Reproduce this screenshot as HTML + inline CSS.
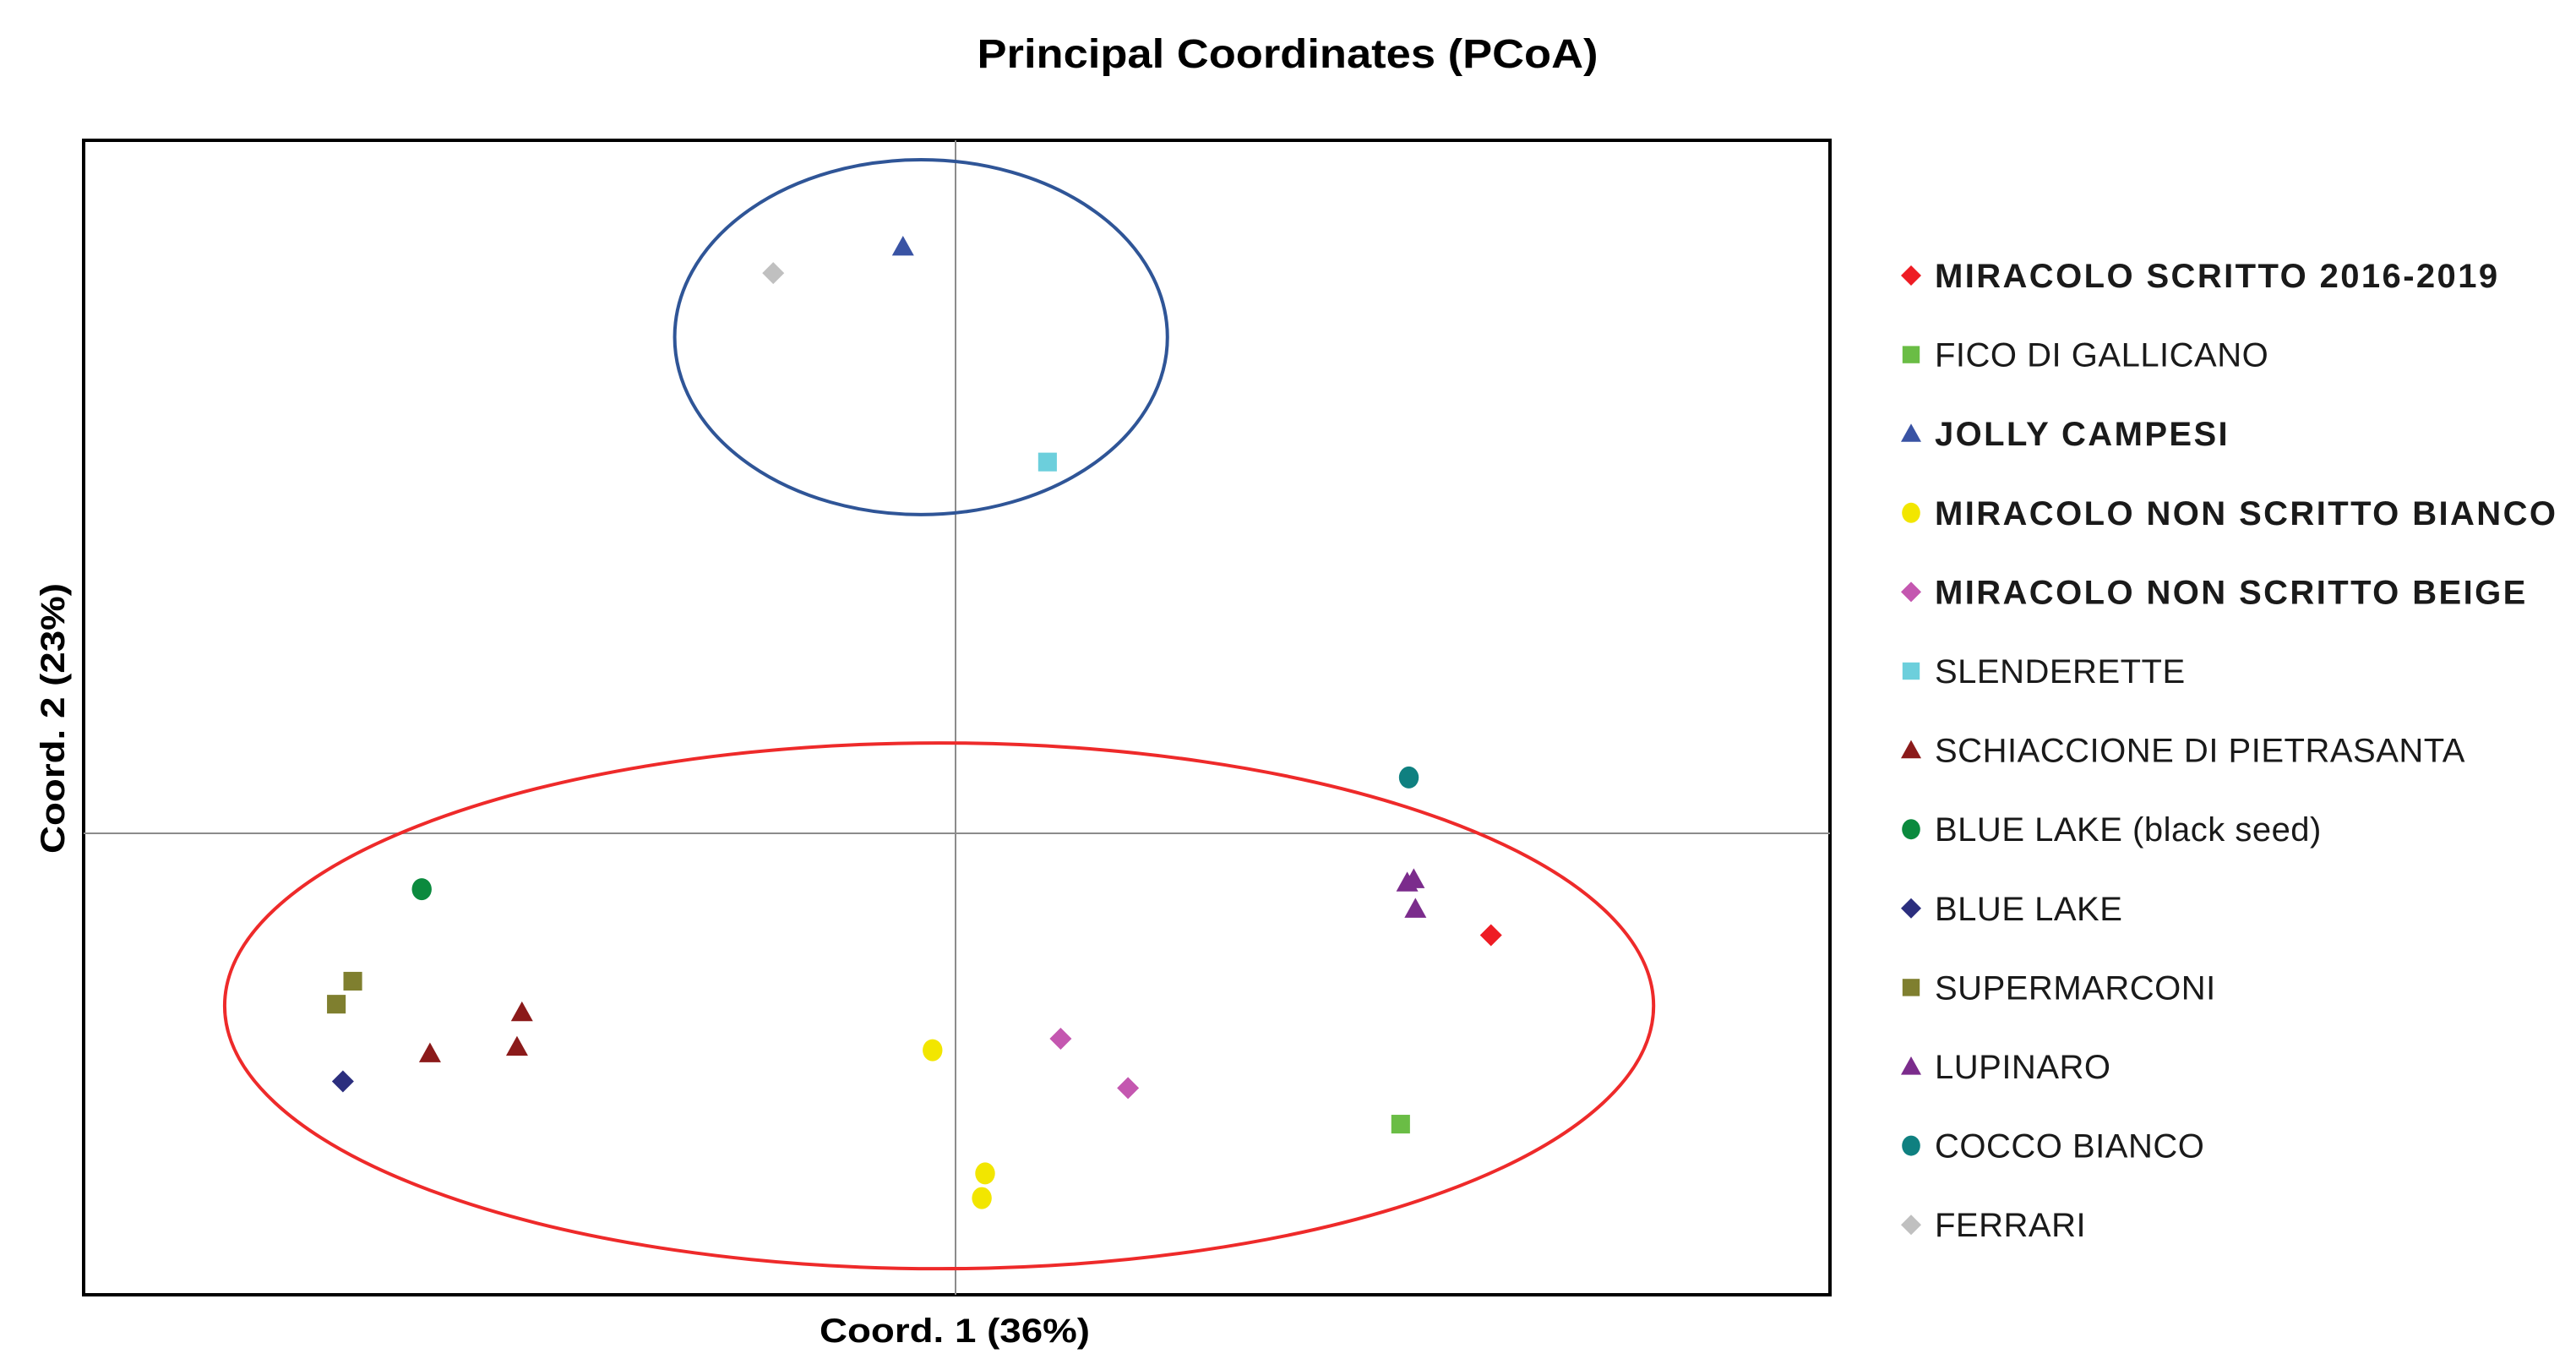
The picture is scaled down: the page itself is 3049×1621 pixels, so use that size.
<!DOCTYPE html>
<html><head><meta charset="utf-8"><style>
html,body{margin:0;padding:0;background:#fff;}
svg{display:block;font-family:"Liberation Sans",sans-serif;}
</style></head><body>
<svg id="chart" width="3049" height="1621" viewBox="0 0 3049 1621">
<text x="1524" y="80" font-size="48" font-weight="bold" text-anchor="middle" textLength="735" lengthAdjust="spacingAndGlyphs">Principal Coordinates (PCoA)</text>
<rect x="99" y="166" width="2067" height="1366" fill="none" stroke="#000" stroke-width="4"/>
<g id="axes"></g>
<g id="ellipses"></g>
<g id="marks"></g>
<g id="legend"></g>
<text x="1130" y="1588" font-size="40" font-weight="bold" text-anchor="middle" textLength="320" lengthAdjust="spacingAndGlyphs">Coord. 1 (36%)</text>
<text transform="translate(76,850) rotate(-90)" font-size="40" font-weight="bold" text-anchor="middle" textLength="320" lengthAdjust="spacingAndGlyphs">Coord. 2 (23%)</text>
</svg>
<script>
const seriesNames = ["MIRACOLO SCRITTO 2016-2019","FICO DI GALLICANO","JOLLY CAMPESI","MIRACOLO NON SCRITTO BIANCO","MIRACOLO NON SCRITTO BEIGE","SLENDERETTE","SCHIACCIONE DI PIETRASANTA","BLUE LAKE (black seed)","BLUE LAKE","SUPERMARCONI","LUPINARO","COCCO BIANCO","FERRARI"];
const seriesBold = [true,false,true,true,true,false,false,false,false,false,false,false,false];
const seriesColors = ["#ee1c24","#6abd45","#3953a4","#f2e600","#c457b0","#6ccfdc","#8b1a1a","#0b8a3e","#2b2e7e","#7f7f2f","#7b2c8c","#0f8080","#c0c0c0"];
const seriesShapes = ["diamond","square","triangle","circle","diamond","square","triangle","circle","diamond","square","triangle","circle","diamond"];
const seriesX = [[3.26],[2.71],[-0.32],[-0.14,0.18,0.16],[0.64,1.05],[0.56],[-2.64,-2.67,-3.20],[-3.25],[-3.73],[-3.67,-3.77],[2.75,2.79,2.80],[2.76],[-1.11]];
const seriesY = [[-0.62],[-1.77],[3.57],[-1.32,-2.07,-2.22],[-1.25,-1.55],[2.26],[-1.09,-1.30,-1.34],[-0.34],[-1.51],[-0.90,-1.04],[-0.30,-0.28,-0.46],[0.34],[3.41]];
const ellipseCX = [-0.21,-0.10];
const ellipseCY = [3.02,-1.05];
const ellipseRX = [1.50,4.35];
const ellipseRY = [1.08,1.60];
const ellipseColors = ["#2f5597","#ee2a2a"];

const NS="http://www.w3.org/2000/svg";
const X0=1131, Y0=986, K=194.4;
function xScale(v){return X0+v*K;}
function yScale(v){return Y0-v*K;}
function mk(tag,attrs){const e=document.createElementNS(NS,tag);for(const k in attrs)e.setAttribute(k,attrs[k]);return e;}

const axes=document.getElementById('axes');
const vl=mk('line',{x1:xScale(0),x2:xScale(0),y1:166,y2:1532,stroke:'#8c8c8c','stroke-width':2});


axes.appendChild(vl);
const hl=mk('line',{x1:99,x2:2166,y1:yScale(0),y2:yScale(0),stroke:'#8c8c8c','stroke-width':2});


axes.appendChild(hl);

const eg=document.getElementById('ellipses');
for(let i=0;i<ellipseCX.length;i++){
  const e=mk('ellipse',{cx:xScale(ellipseCX[i]),cy:yScale(ellipseCY[i]),rx:ellipseRX[i]*K,ry:ellipseRY[i]*K,fill:'none',stroke:ellipseColors[i],'stroke-width':4});
  
  
  eg.appendChild(e);
}

function shape(type,cx,cy,s,color){
  let e;
  if(type==='diamond') e=mk('polygon',{points:`${cx},${cy-s} ${cx+s*1.0},${cy} ${cx},${cy+s} ${cx-s*1.0},${cy}`,fill:color});
  else if(type==='square') e=mk('rect',{x:cx-s*0.85,y:cy-s*0.85,width:s*1.7,height:s*1.7,fill:color});
  else if(type==='triangle') e=mk('polygon',{points:`${cx},${cy-s} ${cx+s},${cy+s*0.8} ${cx-s},${cy+s*0.8}`,fill:color});
  else e=mk('ellipse',{cx:cx,cy:cy,rx:s*0.9,ry:s,fill:color});
  return e;
}

const mg=document.getElementById('marks');
for(let i=0;i<seriesNames.length;i++){
  for(let j=0;j<seriesX[i].length;j++){
    const p=shape(seriesShapes[i],xScale(seriesX[i][j]),yScale(seriesY[i][j]),13,seriesColors[i]);
    
    
    mg.appendChild(p);
  }
}

const lg=document.getElementById('legend');
for(let i=0;i<seriesNames.length;i++){
  const y=326+i*93.6;
  const g=mk('g',{});
  
  
  g.appendChild(shape(seriesShapes[i],2262,y,12,seriesColors[i]));
  const t=mk('text',{x:2290,y:y+14,'font-size':40,fill:'#1a1a1a','font-weight':seriesBold[i]?'bold':'normal','letter-spacing':seriesBold[i]?2.4:0.5});
  t.textContent=seriesNames[i];
  g.appendChild(t);
  lg.appendChild(g);
}
</script>
</body></html>
